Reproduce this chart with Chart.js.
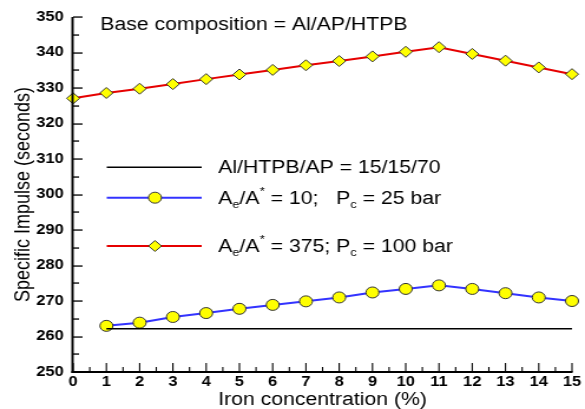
<!DOCTYPE html>
<html>
<head>
<meta charset="utf-8">
<script src="https://cdn.jsdelivr.net/npm/chart.js@4.4.0/dist/chart.umd.min.js"></script>
<style>
    html, body { margin: 0; padding: 0; background: #fff; overflow: hidden; }
    /* the original figure is stretched sideways, so draw narrower and stretch */
    #wrap { width: 496px; height: 409px; transform: scaleX(1.1794); transform-origin: 0 0; }
</style>
</head>
<body>
<div id="wrap"><canvas id="isp" width="496" height="409"></canvas></div>
<script>
// Iron concentration (%)
var ironPct = [0, 1, 2, 3, 4, 5, 6, 7, 8, 9, 10, 11, 12, 13, 14, 15];
// Ae/A* = 375; Pc = 100 bar
var ispHigh = [327.1, 328.6, 329.8, 331.1, 332.5, 333.8, 335.1, 336.4, 337.6, 338.9, 340.2, 341.5, 339.6, 337.7, 335.8, 333.9];
// Ae/A* = 10; Pc = 25 bar
var ispLow = [null, 263.0, 263.9, 265.5, 266.6, 267.8, 268.9, 269.9, 271.0, 272.4, 273.4, 274.4, 273.4, 272.2, 271.0, 270.0];
// Al/HTPB/AP = 15/15/70 (no iron)
var ispBase = [null, 262.2, 262.2, 262.2, 262.2, 262.2, 262.2, 262.2, 262.2, 262.2, 262.2, 262.2, 262.2, 262.2, 262.2, 262.2];
var yTicks = [250, 260, 270, 280, 290, 300, 310, 320, 330, 340, 350];
var xTicks = [0, 1, 2, 3, 4, 5, 6, 7, 8, 9, 10, 11, 12, 13, 14, 15];

var FONT = "'Liberation Sans', Arial, sans-serif";

function pts(ys) {
    var out = [];
    for (var i = 0; i < ironPct.length; i++) {
        if (ys[i] !== null) out.push({ x: ironPct[i], y: ys[i] });
    }
    return out;
}

// axis frame, inward ticks, legend and the note at the top
var decor = {
    id: 'decor',
    afterDraw: function (chart) {
        var ctx = chart.ctx, a = chart.chartArea;
        var y0 = yTicks[0], y1 = yTicks[yTicks.length - 1];
        var x0 = xTicks[0], x1 = xTicks[xTicks.length - 1];
        var h = a.bottom - a.top, w = a.right - a.left;
        ctx.save();
        ctx.fillStyle = '#000';
        ctx.fillRect(a.left - 1.5, a.top, 2, h + 1);
        ctx.fillRect(a.left - 1.5, a.bottom - 1, w + 2, 2);
        for (var v = y0; v <= y1; v += 5) {
            var py = Math.round(a.bottom - (v - y0) / (y1 - y0) * h);
            ctx.fillRect(a.left, py - 0.6, (v - y0) % 10 === 0 ? 8 : 5, 1.3);
        }
        for (var u = x0; u <= x1; u += 0.5) {
            var px = a.left + (u - x0) / (x1 - x0) * w;
            var len = u % 1 === 0 ? 9 : 5;
            ctx.fillRect(px - 0.55, a.bottom - len, 1.1, len);
        }
        ctx.getImageData(61, 200, 1, 1);

        // legend samples
        var lx0 = 90.5, lx1 = 171, mx = 131.4, tx = 185;
        var rows = [
            { y: 167.3, color: '#000', width: 1.5, marker: null },
            { y: 197.7, color: '#3333ff', width: 2, marker: 'circle' },
            { y: 246, color: '#e60000', width: 2, marker: 'rectRot' }
        ];
        rows.forEach(function (r) {
            ctx.strokeStyle = r.color;
            ctx.lineWidth = r.width;
            ctx.beginPath(); ctx.moveTo(lx0, r.y); ctx.lineTo(lx1, r.y); ctx.stroke();
            if (r.marker) {
                ctx.fillStyle = '#ffff00';
                ctx.strokeStyle = '#333';
                ctx.lineWidth = 1;
                Chart.helpers.drawPoint(ctx, { pointStyle: r.marker, radius: 5.5, rotation: 0, borderWidth: 1 }, mx, r.y);
            }
        });

        ctx.fillStyle = '#000';
        ctx.textBaseline = 'alphabetic';
        ctx.textAlign = 'left';
        ctx.font = '18px ' + FONT;
        ctx.fillText('Base composition = Al/AP/HTPB', 85, 29.5);
        ctx.fillText('Al/HTPB/AP = 15/15/70', tx, 172.5);

        // mixed text with sub/superscripts
        function rich(parts, x, y) {
            parts.forEach(function (p) {
                var size = p.sub || p.sup ? 11 : 18;
                var dy = p.sub ? 4 : (p.sup ? -9 : 0);
                ctx.font = size + 'px ' + FONT;
                ctx.fillText(p.t, x, y + dy);
                x += ctx.measureText(p.t).width;
            });
        }
        rich([{ t: 'A' }, { t: 'e', sub: 1 }, { t: '/A' }, { t: '*', sup: 1 },
              { t: ' = 10;   P' }, { t: 'c', sub: 1 }, { t: ' = 25 bar' }], tx, 203.5);
        rich([{ t: 'A' }, { t: 'e', sub: 1 }, { t: '/A' }, { t: '*', sup: 1 },
              { t: ' = 375; P' }, { t: 'c', sub: 1 }, { t: ' = 100 bar' }], tx, 251.7);
        ctx.restore();
    }
};

var chart = new Chart(document.getElementById('isp').getContext('2d'), {
    type: 'line',
    data: {
        datasets: [
            {
                label: 'Al/HTPB/AP = 15/15/70',
                data: pts(ispBase),
                borderColor: '#000',
                borderWidth: 1.5,
                pointRadius: 0,
                fill: false,
                clip: false
            },
            {
                label: 'Ae/A* = 10; Pc = 25 bar',
                data: pts(ispLow),
                borderColor: '#3333ff',
                borderWidth: 2,
                pointStyle: 'circle',
                pointRadius: 5.5,
                pointBackgroundColor: '#ffff00',
                pointBorderColor: '#333',
                pointBorderWidth: 1,
                fill: false,
                clip: false
            },
            {
                label: 'Ae/A* = 375; Pc = 100 bar',
                data: pts(ispHigh),
                borderColor: '#e60000',
                borderWidth: 2,
                pointStyle: 'rectRot',
                pointRadius: 5.5,
                pointBackgroundColor: '#ffff00',
                pointBorderColor: '#333',
                pointBorderWidth: 1,
                fill: false,
                clip: false
            }
        ]
    },
    options: {
        responsive: false,
        animation: false,
        devicePixelRatio: 1,
        layout: { padding: { top: 17, right: 11, bottom: 0, left: 0 } },
        plugins: {
            legend: { display: false },
            title: { display: false },
            tooltip: { enabled: false }
        },
        scales: {
            x: {
                type: 'linear',
                min: 0,
                max: 15,
                afterFit: function (s) { s.height = 37; },
                grid: { display: false, drawTicks: false },
                border: { display: false },
                ticks: {
                    stepSize: 1,
                    color: '#000',
                    padding: 2,
                    maxRotation: 0,
                    font: { family: FONT, size: 14, weight: 'bold' }
                },
                title: {
                    display: true,
                    text: 'Iron concentration (%)',
                    color: '#000',
                    padding: 0,
                    font: { family: FONT, size: 18, lineHeight: 1 }
                }
            },
            y: {
                min: 250,
                max: 350,
                afterFit: function (s) { s.width = 62; },
                grid: { display: false, drawTicks: false },
                border: { display: false },
                ticks: {
                    stepSize: 10,
                    color: '#000',
                    padding: 8,
                    font: { family: FONT, size: 14, weight: 'bold' }
                },
                title: {
                    display: true,
                    text: 'Specific Impulse (seconds)',
                    color: '#000',
                    padding: { top: 9, bottom: 0 },
                    font: { family: FONT, size: 18 }
                }
            }
        }
    },
    plugins: [decor]
});
</script>
</body>
</html>
